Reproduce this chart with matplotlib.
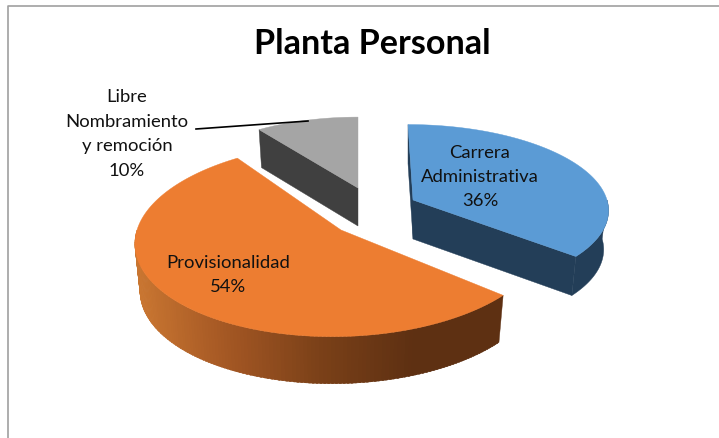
import numpy as np
import matplotlib
matplotlib.use("Agg")
import matplotlib.pyplot as plt
from matplotlib.colors import LinearSegmentedColormap
from matplotlib.patches import Polygon

# chart data
title = "Planta Personal"
labels = ["Carrera\nAdministrativa\n36%", "Provisionalidad\n54%", "Libre\nNombramiento\ny remoción\n10%"]
values = [36, 54, 10]

# look of each slice: apex, radii, depth, lean (all in image pixels)
apex = [(413, 200), (341, 230), (358, 188)]
radii = [(194, 83), (204, 96), (182, 78)]
depth = [39, 47, 38]
lean = [-5, 9, 0]
top_colors = ["#5b9bd5", "#ed7d31", "#a5a5a5"]
side_colors = ["#233e58", "#5e3012", "#404040"]
text_pos = [(480, 177), (228, 275), (127, 134)]
persp = 0.1
shrink = 0.975

plt.rcParams['font.family'] = ['Lato', 'DejaVu Sans']

fig = plt.figure(figsize=(7.19, 4.38), dpi=100)
ax = fig.add_axes([0, 0, 1, 1])
wedges, _ = ax.pie(values, startangle=90, counterclock=False)
angles = [(w.theta1, w.theta2) for w in wedges]
for w in wedges:
    w.remove()
ax.set_aspect('auto')
ax.set_xlim(0, 719)
ax.set_ylim(438, 0)
ax.axis('off')


def arc(i, t1, t2, low=False, n=120):
    # points of the rim seen in perspective, low=True for the bottom rim
    t = np.radians(np.linspace(t1, t2, n))
    u, v = np.cos(t), np.sin(t)
    f = 1 / (1 + persp * v)
    k = shrink if low else 1
    x = apex[i][0] + radii[i][0] * u * f * k + lean[i] * v
    y = apex[i][1] - radii[i][1] * v * f + (depth[i] if low else 0)
    return np.column_stack([x, y])


def wall(i, t1, t2, color):
    top = arc(i, t1, t2)
    low = arc(i, t1, t2, low=True)
    ax.add_patch(Polygon(np.vstack([top, low[::-1]]), fc=color, ec=color, lw=0.3))


def inner(i, t, color):
    # cut face between the apex and the rim
    top = arc(i, t, t, n=1)[0]
    low = arc(i, t, t, low=True, n=1)[0]
    a = apex[i]
    pts = [a, top, low, (a[0], a[1] + depth[i])]
    ax.add_patch(Polygon(pts, fc=color, ec=color, lw=0.3))


def top_face(i):
    t1, t2 = angles[i]
    pts = np.vstack([[apex[i]], arc(i, t1, t2)])
    ax.add_patch(Polygon(pts, fc=top_colors[i], ec=top_colors[i], lw=0.3))


# gray slice, only the cut face on the left shows
inner(2, angles[2][1], side_colors[2])
top_face(2)

# blue slice, thin sliver of the back cut shows on the left
inner(0, angles[0][1], side_colors[0])
inner(0, angles[0][0], side_colors[0])
wall(0, angles[0][0], 0, side_colors[0])
top_face(0)

# orange slice, side wall shaded left to right
cmap = LinearSegmentedColormap.from_list("side", ["#c97631", "#a25623", "#7a4018", "#5e3012", "#5e3012"])
t_edges = np.linspace(-180, angles[1][1], 140)
for a, b in zip(t_edges[:-1], t_edges[1:]):
    c = cmap((arc(1, a, a, n=1)[0][0] - 137) / (503 - 137))
    wall(1, a, min(b + 0.5, angles[1][1]), c)
top_face(1)

# frame, open on the right and at the bottom
ax.plot([8, 8, 719], [438, 6, 6], color="#a0a0a0", lw=1.2)

# leader line
ax.plot([196, 308], [129, 121], color="black", lw=1.2)

ax.text(372, 44, title, ha='center', va='center', fontsize=24.6, fontweight='bold', color='black')
for lab, (x, y) in zip(labels, text_pos):
    ax.text(x, y, lab, ha='center', va='center', fontsize=13.3, color='#111111', linespacing=1.65)

fig.savefig("out.png", dpi=100)
